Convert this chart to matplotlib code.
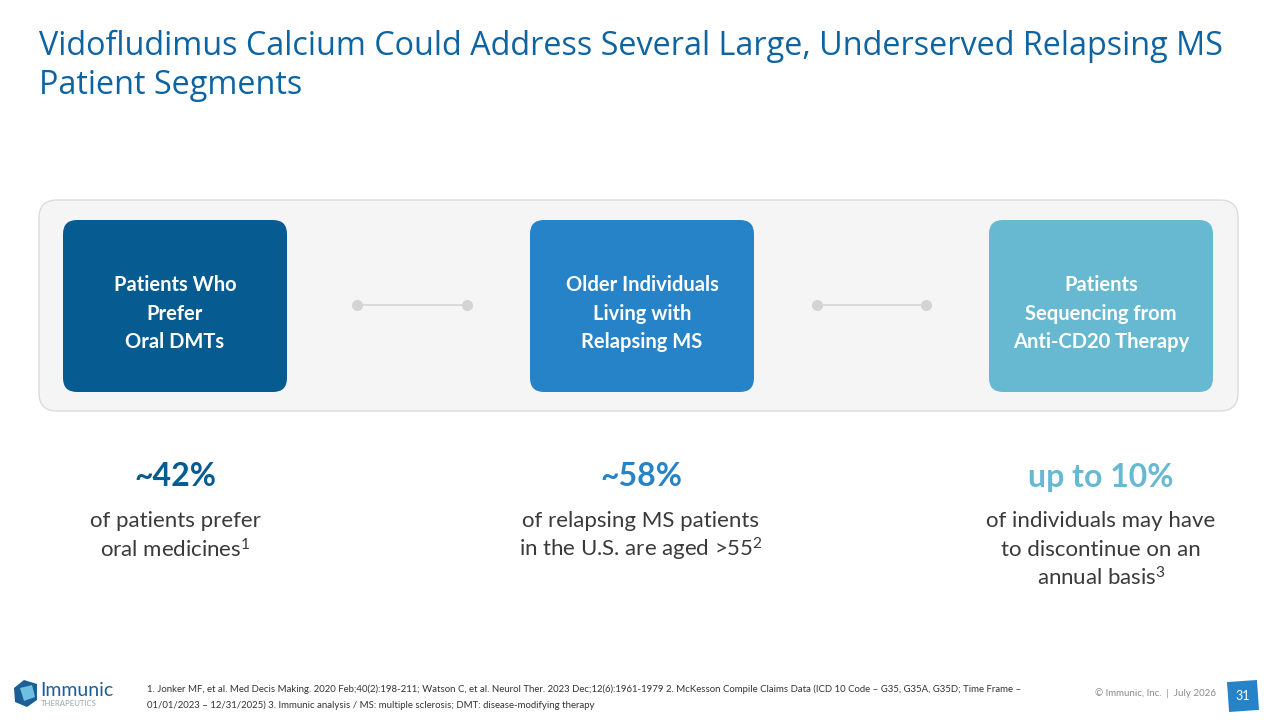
import matplotlib.pyplot as plt
from matplotlib.patches import FancyBboxPatch, Rectangle, Polygon
import matplotlib.transforms as mtransforms

plt.rcParams['font.family'] = ['Lato', 'DejaVu Sans']

title_lines = ["Vidofludimus Calcium Could Address Several Large, Underserved Relapsing MS",
               "Patient Segments"]
segments = [["Patients Who", "Prefer", "Oral DMTs"],
            ["Older Individuals", "Living with", "Relapsing MS"],
            ["Patients", "Sequencing from", "Anti-CD20 Therapy"]]
stats = ["~42%", "~58%", "up to 10%"]
descs = [["of patients prefer", "oral medicines$\\mathregular{^1}$"],
         ["of relapsing MS patients", "in the U.S. are aged >55$\\mathregular{^2}$"],
         ["of individuals may have", "to discontinue on an", "annual basis$\\mathregular{^3}$"]]
colors = ["#065B90", "#2783C8", "#66B9D1"]
footnote = ["1. Jonker MF, et al. Med Decis Making. 2020 Feb;40(2):198-211; Watson C, et al. Neurol Ther. 2023 Dec;12(6):1961-1979 2. McKesson Compile Claims Data (ICD 10 Code \u2013 G35, G35A, G35D; Time Frame \u2013",
            "01/01/2023 \u2013 12/31/2025) 3. Immunic analysis / MS: multiple sclerosis; DMT: disease-modifying therapy"]
page = "31"

fig = plt.figure(figsize=(12.8, 7.2), dpi=100)
ax = fig.add_axes([0, 0, 1, 1])
ax.set_xlim(0, 1280)
ax.set_ylim(720, 0)
ax.axis('off')

# title
for i, t in enumerate(title_lines):
    ax.text(39, 46 + i * 39, t, fontsize=23.3, color="#0E64A0", family=['Open Sans', 'DejaVu Sans'],
            va='center', ha='left')

# grey panel
ax.add_patch(FancyBboxPatch((39, 200), 1199, 211, boxstyle="round,pad=0,rounding_size=18",
                            fc="#F5F5F5", ec="#DCDCDC", lw=1))

box_x = [63, 530, 989]
box_w, box_h = 224, 172
for x, lab, c in zip(box_x, segments, colors):
    ax.add_patch(FancyBboxPatch((x, 220), box_w, box_h, boxstyle="round,pad=0,rounding_size=14",
                                fc=c, ec='none'))
    n = len(lab)
    for j, line in enumerate(lab):
        ax.text(x + box_w / 2, 313.5 + (j - (n - 1) / 2) * 28.5, line, ha='center', va='center',
                color='white', fontsize=14.5, fontweight='bold')

# connectors
for x0, x1 in [(357, 467), (817, 926)]:
    ax.plot([x0, x1], [305, 305], color="#D4D4D4", lw=1.2, zorder=2)
    ax.plot([x0, x1], [305, 305], 'o', color="#D4D4D4", ms=7, zorder=3)

# stats
centers = [175, 641, 1101]
for cx, s, d, c in zip(centers, stats, descs, colors):
    ax.text(cx, 477, s, ha='center', va='center', fontsize=23, fontweight='bold', color=c)
    for j, line in enumerate(d):
        ax.text(cx, 521 + j * 28.5, line, ha='center', va='center', fontsize=16, color="#3A3A3A")

# footer
for j, line in enumerate(footnote):
    ax.text(147, 689 + j * 16, line, ha='left', va='center', fontsize=6.9, color="#333333")
ax.text(1216, 693, "\u00a9 Immunic, Inc.  |  July 2026", ha='right', va='center', fontsize=7,
        color="#8A8A8A")

# page box, slightly rotated
tr = mtransforms.Affine2D().rotate_deg_around(1243, 696, -4) + ax.transData
ax.add_patch(Rectangle((1228, 681), 30, 30, fc="#2783C8", ec='none', transform=tr))
ax.text(1243, 696, page, ha='center', va='center', color='white', fontsize=9)

# logo
ax.add_patch(Polygon([[14, 688], [24, 680], [37, 684], [37, 700], [27, 707], [15, 702]],
                     closed=True, fc="#1C5E96", ec='none'))
ax.add_patch(Polygon([[20, 688], [32, 685], [35, 697], [24, 701]], closed=True,
                     fc="#6FC0E0", ec='none'))
ax.text(40, 690, "Immunic", ha='left', va='center', fontsize=14, color="#1C5E96")
ax.text(41, 704, "THERAPEUTICS", ha='left', va='center', fontsize=5.6, color="#9AA5AE")

fig.savefig("out.png", dpi=100, facecolor='white')
